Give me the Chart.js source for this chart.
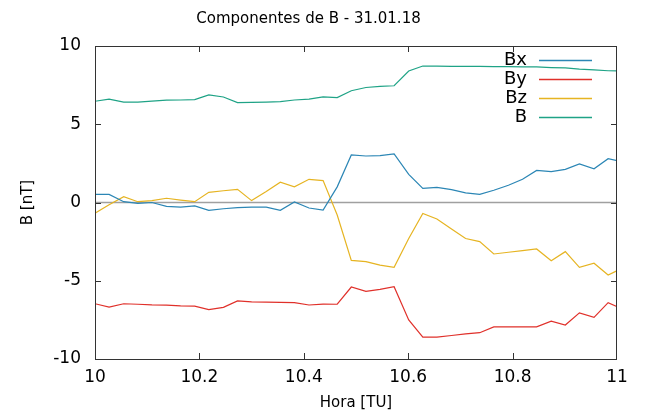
<!DOCTYPE html>
<html>
<head>
<meta charset="utf-8">
<script src="https://cdn.jsdelivr.net/npm/chart.js@4/dist/chart.umd.min.js"></script>
<style>
  html, body { margin: 0; padding: 0; background: #fff; }
  #wrap { width: 649px; height: 418px; }
</style>
</head>
<body>
<div id="wrap"><canvas id="c" width="649" height="418"></canvas></div>
<script>
// hora (TU)
var horas = [10.000, 10.027, 10.055, 10.082, 10.109, 10.137, 10.164, 10.191, 10.218, 10.246,
             10.273, 10.300, 10.328, 10.355, 10.382, 10.410, 10.437, 10.464, 10.491, 10.519,
             10.546, 10.573, 10.601, 10.628, 10.655, 10.683, 10.710, 10.737, 10.764, 10.792,
             10.819, 10.846, 10.874, 10.901, 10.928, 10.956, 10.983, 11.010];

var bx = [0.52, 0.52, 0.05, -0.05, 0.0, -0.25, -0.3, -0.22, -0.5, -0.4,
          -0.33, -0.3, -0.3, -0.5, 0.03, -0.35, -0.48, 1.0, 3.04, 2.97,
          3.0, 3.1, 1.8, 0.9, 0.97, 0.82, 0.62, 0.52, 0.78, 1.1,
          1.48, 2.05, 1.97, 2.12, 2.46, 2.15, 2.8, 2.6];

var by = [-6.47, -6.68, -6.47, -6.5, -6.54, -6.56, -6.6, -6.62, -6.85, -6.7,
          -6.29, -6.35, -6.37, -6.38, -6.4, -6.55, -6.49, -6.5, -5.4, -5.68,
          -5.55, -5.38, -7.5, -8.6, -8.6, -8.5, -8.4, -8.32, -7.95, -7.95,
          -7.95, -7.95, -7.58, -7.83, -7.05, -7.34, -6.4, -6.8];

var bz = [-0.69, -0.15, 0.37, 0.05, 0.12, 0.27, 0.15, 0.05, 0.65, 0.75,
          0.84, 0.12, 0.7, 1.3, 1.0, 1.48, 1.4, -0.8, -3.7, -3.78,
          -4.0, -4.14, -2.3, -0.7, -1.05, -1.7, -2.3, -2.5, -3.29, -3.18,
          -3.08, -2.97, -3.72, -3.14, -4.14, -3.88, -4.63, -4.2];

var bt = [6.47, 6.61, 6.42, 6.42, 6.48, 6.54, 6.55, 6.57, 6.88, 6.74,
          6.38, 6.4, 6.42, 6.45, 6.55, 6.61, 6.75, 6.7, 7.14, 7.35,
          7.42, 7.46, 8.4, 8.72, 8.72, 8.7, 8.7, 8.7, 8.68, 8.68,
          8.67, 8.66, 8.62, 8.6, 8.52, 8.47, 8.42, 8.4];

var nomes = ['Bx', 'By', 'Bz', 'B'];
var cores = ['#2b86b5', '#e0302a', '#e6b422', '#1fa386'];
var ticksX = [10.2, 10.4, 10.6, 10.8];
var ticksY = [-5, 0, 5];

function pontos(vals) {
    return horas.map(function(h, i) { return { x: h, y: vals[i] }; });
}

var series = [bx, by, bz, bt];
var datasets = series.map(function(s, i) {
    return {
        label: nomes[i],
        data: pontos(s),
        borderColor: cores[i],
        borderWidth: 1.2,
        pointRadius: 0,
        tension: 0,
        fill: false
    };
});

// moldura, marcas internas, linha do zero e legenda no estilo gnuplot
var gnuplotEstilo = {
    id: 'gnuplotEstilo',
    beforeDatasetsDraw: function(chart) {
        var ctx = chart.ctx, a = chart.chartArea, y = chart.scales.y;
        var y0 = y.getPixelForValue(0);
        ctx.save();
        ctx.strokeStyle = '#a0a0a0';
        ctx.lineWidth = 1.5;
        ctx.beginPath();
        ctx.moveTo(a.left, y0);
        ctx.lineTo(a.right, y0);
        ctx.stroke();
        ctx.restore();
    },
    afterDatasetsDraw: function(chart) {
        var ctx = chart.ctx, a = chart.chartArea;
        var x = chart.scales.x, y = chart.scales.y;
        ctx.save();
        ctx.strokeStyle = '#333';
        ctx.lineWidth = 1;
        ctx.strokeRect(a.left + 0.5, a.top + 0.5, a.right - a.left - 1, a.bottom - a.top);
        ctx.beginPath();
        ticksX.forEach(function(v) {
            var px = Math.round(x.getPixelForValue(v)) + 0.5;
            ctx.moveTo(px, a.bottom); ctx.lineTo(px, a.bottom - 6);
            ctx.moveTo(px, a.top); ctx.lineTo(px, a.top + 6);
        });
        ticksY.forEach(function(v) {
            var py = Math.round(y.getPixelForValue(v)) + 0.5;
            ctx.moveTo(a.left, py); ctx.lineTo(a.left + 6, py);
            ctx.moveTo(a.right, py); ctx.lineTo(a.right - 6, py);
        });
        ctx.stroke();

        // legenda
        ctx.font = '18px "DejaVu Sans"';
        ctx.textAlign = 'right';
        ctx.textBaseline = 'middle';
        for (var i = 0; i < nomes.length; i++) {
            var ly = a.top + 14 + i * 19;
            ctx.fillStyle = '#000';
            ctx.fillText(nomes[i], a.left + 432, ly);
            ctx.strokeStyle = cores[i];
            ctx.lineWidth = 1.3;
            ctx.beginPath();
            ctx.moveTo(a.left + 444, ly + 0.5);
            ctx.lineTo(a.left + 497, ly + 0.5);
            ctx.stroke();
        }
        ctx.restore();
    }
};

new Chart(document.getElementById('c'), {
    type: 'line',
    data: { datasets: datasets },
    plugins: [gnuplotEstilo],
    options: {
        responsive: false,
        animation: false,
        layout: { padding: { left: 0, right: 32, top: 0, bottom: 0 } },
        plugins: {
            legend: { display: false },
            tooltip: { enabled: false },
            title: {
                display: true,
                text: 'Componentes de B - 31.01.18',
                color: '#000',
                font: { family: 'DejaVu Sans', size: 15, weight: 'normal' },
                padding: { top: 10, bottom: 18 }
            }
        },
        scales: {
            x: {
                type: 'linear',
                min: 10,
                max: 11,
                grid: { display: false, drawTicks: false },
                border: { display: false },
                afterFit: function(s) { s.height = 59; },
                ticks: {
                    stepSize: 0.2,
                    padding: 8,
                    color: '#000',
                    font: { family: 'DejaVu Sans', size: 17 },
                    callback: function(v) { return +v.toFixed(1); }
                },
                title: {
                    display: true,
                    text: 'Hora [TU]',
                    color: '#000',
                    font: { family: 'DejaVu Sans', size: 15 },
                    padding: { top: 0, bottom: 6 }
                }
            },
            y: {
                min: -10,
                max: 10,
                grid: { display: false, drawTicks: false },
                border: { display: false },
                afterFit: function(s) { s.width = 95; },
                ticks: {
                    stepSize: 5,
                    padding: 14,
                    color: '#000',
                    font: { family: 'DejaVu Sans', size: 17 }
                },
                title: {
                    display: true,
                    text: 'B [nT]',
                    color: '#000',
                    font: { family: 'DejaVu Sans', size: 15 },
                    padding: { top: 19, bottom: 0 }
                }
            }
        }
    }
});
</script>
</body>
</html>
